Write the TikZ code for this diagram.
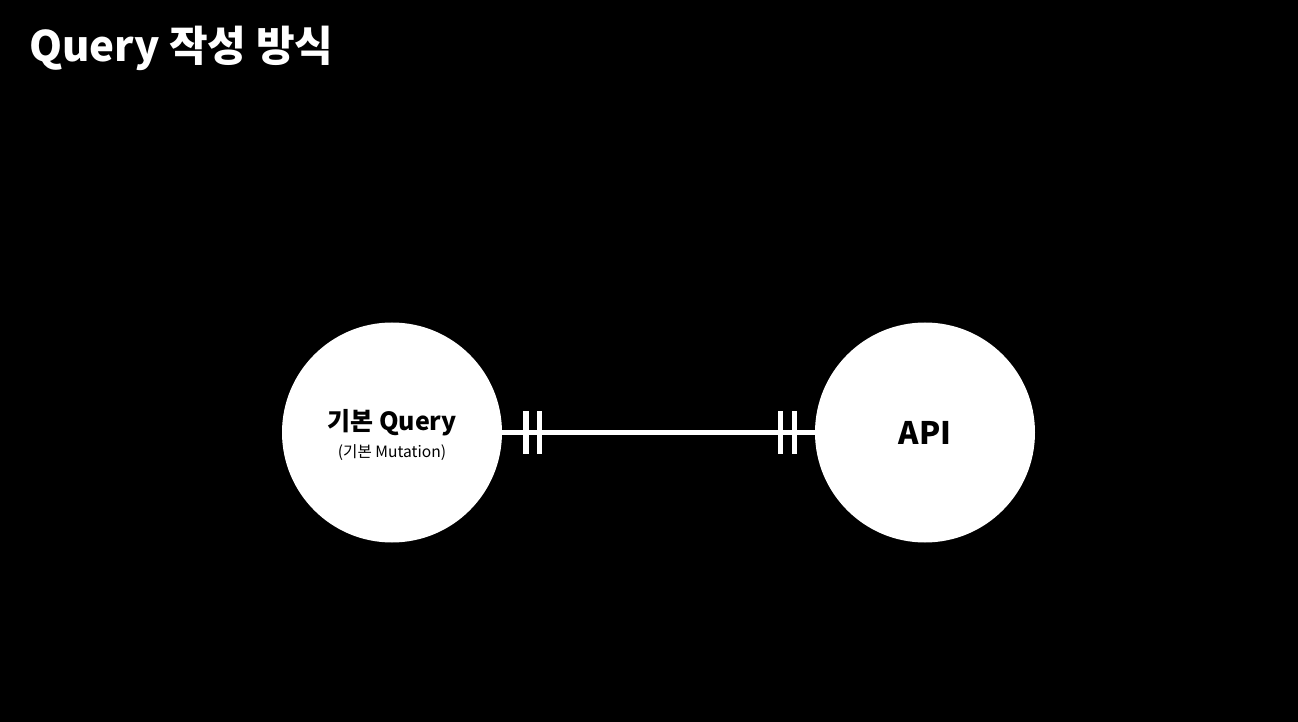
\documentclass[tikz,border=0pt]{standalone}
\usepackage{fontspec}
\setmainfont{Noto Sans CJK KR}
\usetikzlibrary{calc}

\tikzset{
  circ/.style={circle, fill=white, inner sep=0pt, minimum size=110pt, align=center, font=\bfseries},
  bar/.style={rectangle, fill=white, inner sep=0pt, minimum width=2.6pt, minimum height=21.5pt},
  link/.style={white, line width=2.2pt}
}

\begin{document}
\begin{tikzpicture}[x=0.5pt, y=-0.5pt]
    % background
    \fill[black] (0,0) rectangle (1298,722);

    \node[anchor=base west, white, font=\bfseries\fontsize{21}{25}\selectfont] (title) at (22,62) {Query 작성 방식};

    \node[circ] (basic) at (392,432.5) {\rule{0pt}{13pt}{\fontsize{12.5}{15}\selectfont 기본 Query}\\[1.5pt]{\mdseries\fontsize{7.8}{9}\selectfont (기본 Mutation)}};
    \node[circ, font=\bfseries\fontsize{15.5}{18}\selectfont] (api) at (925,432.5) {API};

    \draw[link] (basic) -- (api);

    % double bars at both ends
    \node[bar] (b1) at ($(basic.east)+(23.5,0)$) {};
    \node[bar] (b2) at ($(basic.east)+(37,0)$) {};
    \node[bar] (b3) at ($(api.west)+(-34.5,0)$) {};
    \node[bar] (b4) at ($(api.west)+(-20.5,0)$) {};
\end{tikzpicture}
\end{document}
